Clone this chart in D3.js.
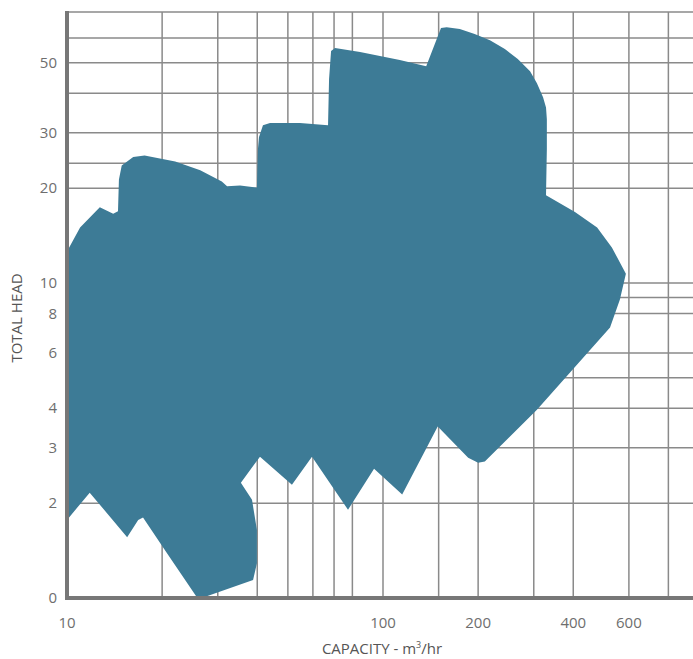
<!DOCTYPE html>
<html>
<head>
<meta charset="utf-8">
<script src="https://cdn.jsdelivr.net/npm/d3@7"></script>
<style>
  body { margin: 0; background: #fff; }
  text { font-family: "Open Sans", sans-serif; }
</style>
</head>
<body>
<svg id="chart"></svg>
<script>
// Capacity (m3/hr) and total head of the envelope outline, clockwise from the left edge
const capacity = [10, 11.0, 12.7, 14.0, 14.5, 14.6, 14.9, 16.2, 17.6, 22.0, 26.4, 30.9, 32.1, 35.3, 39.9,
    40.2, 40.5, 41.7, 43.9, 54.6, 67.0, 67.5, 68.5, 70.5, 84.6, 113, 137, 152.6, 159, 175, 195, 218, 243,
    267, 292, 307, 321, 328, 330,
    330, 328, 405, 476, 530, 587, 562, 523, 307, 210, 200, 186, 149, 115, 93.7, 77.5, 59.6, 51.5,
    40.8, 35.5, 38.5, 39.9, 39.9, 38.8, 26.7, 25.6, 20.7, 17.4, 16.8, 15.5, 11.8, 10];
const head = [12.6, 15.0, 17.4, 16.6, 16.9, 21.3, 23.6, 25.1, 25.4, 24.3, 22.8, 21.0, 20.3, 20.4, 20.1,
    26.6, 29.0, 31.7, 32.2, 32.2, 31.7, 44.4, 54.5, 55.7, 54.1, 51.0, 48.8, 64.5, 64.9, 64.0, 61.7, 59.0, 55.3,
    51.4, 47.0, 43.1, 38.9, 36.1, 33.1,
    26.6, 19.0, 16.8, 15.0, 12.97, 10.7, 8.86, 7.22, 3.96, 2.71, 2.69, 2.79, 3.50, 2.13, 2.57, 1.905, 2.81, 2.29,
    2.81, 2.32, 2.05, 1.645, 1.29, 1.14, 1.0, 1.015, 1.39, 1.80, 1.77, 1.56, 2.16, 1.77];

// Grid lines and tick labels
const xGrid = [20, 30, 40, 50, 60, 70, 80, 100, 150, 200, 300, 400, 600, 800];
const yGrid = [2, 3, 4, 5, 6, 8, 9, 10, 20, 24, 30, 40, 50, 60, 72.5];
const xTicks = [10, 100, 200, 400, 600];
const xTickLabels = ["10", "100", "200", "400", "600"];
const yTicks = [1, 2, 3, 4, 6, 8, 10, 20, 30, 50];
const yTickLabels = ["0", "2", "3", "4", "6", "8", "10", "20", "30", "50"];

const width = 693, height = 659;
const svg = d3.select("#chart").attr("width", width).attr("height", height);

const x = d3.scaleLog().domain([10, 1000]).range([67, 699]);
const y = d3.scaleLog().domain([1, 72.5]).range([598, 12]);

const gridColor = "#8a8a8a";

// vertical grid
svg.append("g").selectAll("line").data(xGrid).join("line")
    .attr("x1", d => x(d)).attr("x2", d => x(d))
    .attr("y1", y(72.5)).attr("y2", y(1))
    .attr("stroke", gridColor).attr("stroke-width", 1.5);

// horizontal grid
svg.append("g").selectAll("line").data(yGrid).join("line")
    .attr("x1", x(10)).attr("x2", width)
    .attr("y1", d => y(d)).attr("y2", d => y(d))
    .attr("stroke", gridColor).attr("stroke-width", 1.5);

// envelope shape
const pts = capacity.map((c, i) => [c, head[i]]);
const outline = d3.line()
    .x(d => x(d[0]))
    .y(d => y(d[1]))
    .curve(d3.curveLinearClosed);

svg.append("path")
    .attr("d", outline(pts))
    .attr("fill", "#3d7b96");

// axes lines
svg.append("line")
    .attr("x1", x(10)).attr("x2", x(10))
    .attr("y1", y(72.5) - 1).attr("y2", y(1) + 2)
    .attr("stroke", "#777").attr("stroke-width", 4);
svg.append("line")
    .attr("x1", x(10) - 2).attr("x2", width)
    .attr("y1", y(1)).attr("y2", y(1))
    .attr("stroke", "#777").attr("stroke-width", 4);

// tick labels
svg.append("g").selectAll("text").data(xTicks).join("text")
    .attr("x", d => x(d))
    .attr("y", 628)
    .attr("text-anchor", "middle")
    .attr("font-size", "15px")
    .attr("fill", "#6e6e6e")
    .text((d, i) => xTickLabels[i]);

svg.append("g").selectAll("text").data(yTicks).join("text")
    .attr("x", 57)
    .attr("y", d => y(d) + 5)
    .attr("text-anchor", "end")
    .attr("font-size", "15px")
    .attr("fill", "#6e6e6e")
    .text((d, i) => yTickLabels[i]);

// axis titles
const xt = svg.append("text")
    .attr("x", 382)
    .attr("y", 654)
    .attr("text-anchor", "middle")
    .attr("font-size", "15px")
    .attr("fill", "#555");
xt.append("tspan").text("CAPACITY - m");
xt.append("tspan").attr("font-size", "9px").attr("dy", -6).text("3");
xt.append("tspan").attr("dy", 6).text("/hr");

svg.append("text")
    .attr("transform", "translate(22,318) rotate(-90)")
    .attr("text-anchor", "middle")
    .attr("font-size", "15px")
    .attr("fill", "#555")
    .text("TOTAL HEAD");
</script>
</body>
</html>
